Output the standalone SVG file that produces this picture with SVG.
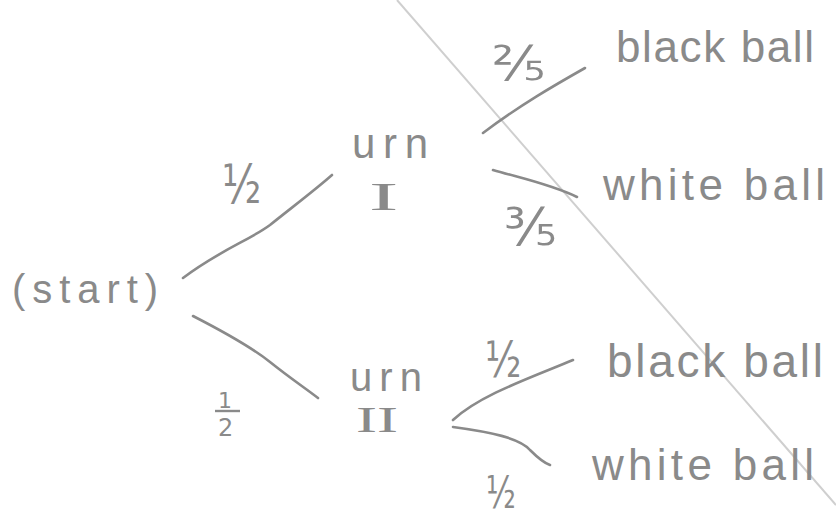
<svg xmlns="http://www.w3.org/2000/svg" width="836" height="519" viewBox="0 0 836 519">
<style>
.t{font-family:"Liberation Sans","DejaVu Sans",sans-serif;fill:#8a8a8a}
.r{font-family:"Liberation Serif",serif;fill:#8a8a8a}
.c{fill:none;stroke:#8a8a8a;stroke-width:2.6;stroke-linecap:round;stroke-linejoin:round}
.f{font-family:"DejaVu Sans",sans-serif;fill:#8a8a8a}
</style>
<rect width="836" height="519" fill="#ffffff"/>
<line x1="397" y1="0" x2="836" y2="505" stroke="#cfcfcf" stroke-width="2"/>
<g id="connectors">
<path class="c" d="M183 278 C220 250 250 240 270 225 C295 205 315 190 332 175"/>
<path class="c" d="M193 316 C230 335 255 350 270 362 C290 378 305 388 318 398"/>
<path class="c" d="M483 133 C520 105 555 85 585 68"/>
<path class="c" d="M493 170 C520 178 550 184 577 197"/>
<path class="c" d="M573 360 C530 378 480 395 453 420"/>
<path class="c" d="M453 427 C490 432 520 438 530 450 C538 458 544 463 550 465"/>
</g>
<g id="start"><text class="t" x="12" y="303" font-size="40" textLength="146" lengthAdjust="spacing">(start)</text></g>
<g id="urnI">
<text class="t" x="352" y="158" font-size="42" textLength="76" lengthAdjust="spacing">urn</text>
<text class="r" x="0" y="0" font-size="40" transform="translate(369 210) scale(2.2 1)">I</text>
</g>
<g id="urnII">
<text class="t" x="350" y="391" font-size="40" textLength="72" lengthAdjust="spacing">urn</text>
<text class="r" x="0" y="0" font-size="36" transform="translate(356 432) scale(1.75 1)">II</text>
</g>
<g id="blackball1"><text class="t" x="616" y="62" font-size="44" textLength="198" lengthAdjust="spacing">black ball</text></g>
<g id="whiteball1"><text class="t" x="603" y="200" font-size="44" textLength="222" lengthAdjust="spacing">white ball</text></g>
<g id="blackball2"><text class="t" x="607" y="377" font-size="46" textLength="216" lengthAdjust="spacing">black ball</text></g>
<g id="whiteball2"><text class="t" x="592" y="480" font-size="44" textLength="222" lengthAdjust="spacing">white ball</text></g>
<g id="labels">
<text class="f" x="0" y="0" font-size="54" transform="translate(222 203) scale(0.75 1)">½</text>
<text class="f" x="218" y="408" font-size="22">1</text>
<text class="f" x="218" y="436" font-size="24">2</text>
<line x1="215" y1="411" x2="240" y2="411" stroke="#8a8a8a" stroke-width="2.4"/>
<text class="f" x="0" y="0" font-size="48" transform="translate(492 80) scale(1.15 1)">⅖</text>
<text class="f" x="0" y="0" font-size="52" transform="translate(504 245) scale(1.05 1)">⅗</text>
<text class="f" x="0" y="0" font-size="50" transform="translate(485 377) scale(0.75 1)">½</text>
<text class="f" x="0" y="0" font-size="44" transform="translate(486 508) scale(0.7 1)">½</text>
</g>
</svg>
